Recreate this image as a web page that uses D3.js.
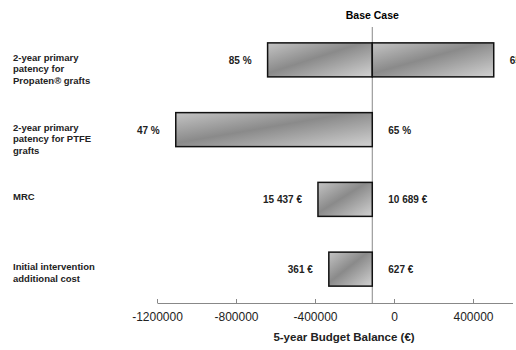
<!DOCTYPE html>
<html>
<head>
<meta charset="utf-8">
<script src="https://cdn.jsdelivr.net/npm/d3@7"></script>
<style>
    body { margin: 0; background: #fff; }
    text { font-family: "Liberation Sans", Arial, sans-serif; }
</style>
</head>
<body>
<div id="tornado_chart"></div>
<script>
// Tornado chart data (5-year budget balance, €)
const categories = ["propaten", "ptfe", "mrc", "initial"];
const categoryLabels = [
    ["2-year primary", "patency for", "Propaten\u00AE grafts"],
    ["2-year primary", "patency for PTFE", "grafts"],
    ["MRC"],
    ["Initial intervention", "additional cost"]
];
const baseCase = -110000;
const lowValues = [-640000, -1105000, -385000, -330000];
const highValues = [505000, -110000, -110000, -110000];
const lowLabels = ["85 %", "47 %", "15 437 \u20AC", "361 \u20AC"];
const highLabels = ["65 %", "65 %", "10 689 \u20AC", "627 \u20AC"];
const tickValues = [-1200000, -800000, -400000, 0, 400000];

function create_tornado_chart(width, height) {
    d3.select("#tornado_chart").select("svg").remove();

    var svg = d3.select("#tornado_chart").append("svg")
        .attr("width", width)
        .attr("height", height);

    // Gradient fill for bars
    var grad = svg.append("defs").append("linearGradient")
        .attr("id", "barGrad")
        .attr("x1", "0").attr("y1", "0")
        .attr("x2", "1").attr("y2", "1");
    grad.append("stop").attr("offset", "0%").attr("stop-color", "#c4c4c4");
    grad.append("stop").attr("offset", "45%").attr("stop-color", "#8a8a8a");
    grad.append("stop").attr("offset", "100%").attr("stop-color", "#d2d2d2");

    var x = d3.scaleLinear().domain([-1200000, 600000]).range([157, 512.5]);
    var y = d3.scalePoint().domain(categories).range([25, 304]).padding(0.5);
    var barH = 34;
    var axisY = 303;

    // Base case line
    svg.append("line")
        .attr("x1", x(baseCase)).attr("x2", x(baseCase))
        .attr("y1", 27).attr("y2", axisY)
        .attr("stroke", "#888").attr("stroke-width", 1);

    svg.append("text")
        .attr("x", x(baseCase))
        .attr("y", 19)
        .attr("text-anchor", "middle")
        .style("font-size", "10.5px")
        .style("font-weight", "bold")
        .text("Base Case");

    // Bars: one segment each side of the base case
    var segments = [];
    categories.forEach((c, i) => {
        if (lowValues[i] < baseCase) segments.push({ c: c, a: lowValues[i], b: baseCase });
        if (highValues[i] > baseCase) segments.push({ c: c, a: baseCase, b: highValues[i] });
    });

    svg.selectAll(".bar")
        .data(segments)
        .enter().append("rect")
        .attr("class", "bar")
        .attr("x", d => x(d.a))
        .attr("y", d => y(d.c) - barH / 2)
        .attr("width", d => x(d.b) - x(d.a))
        .attr("height", barH)
        .attr("fill", "url(#barGrad)")
        .attr("stroke", "#111")
        .attr("stroke-width", 1.5);

    // Value labels
    svg.selectAll(".lowLabel")
        .data(categories)
        .enter().append("text")
        .attr("class", "lowLabel")
        .attr("x", (d, i) => x(lowValues[i]) - 16)
        .attr("y", d => y(d) + 4)
        .attr("text-anchor", "end")
        .style("font-size", "10px")
        .style("font-weight", "bold")
        .style("fill", "#222")
        .text((d, i) => lowLabels[i]);

    svg.selectAll(".highLabel")
        .data(categories)
        .enter().append("text")
        .attr("class", "highLabel")
        .attr("x", (d, i) => x(highValues[i]) + 16)
        .attr("y", d => y(d) + 4)
        .attr("text-anchor", "start")
        .style("font-size", "10px")
        .style("font-weight", "bold")
        .style("fill", "#222")
        .text((d, i) => highLabels[i]);

    // Category labels
    var cat = svg.selectAll(".catLabel")
        .data(categories)
        .enter().append("text")
        .attr("class", "catLabel")
        .attr("x", 13)
        .attr("y", d => y(d) + 1)
        .style("font-size", "9.5px")
        .style("font-weight", "bold")
        .style("fill", "#222");
    cat.selectAll("tspan")
        .data((d, i) => categoryLabels[i])
        .enter().append("tspan")
        .attr("x", 13)
        .attr("dy", (d, j) => j === 0 ? 0 : 11.5)
        .text(d => d);

    // Axis
    var xAxis = d3.axisBottom(x)
        .tickValues(tickValues)
        .tickFormat(d => String(d))
        .tickSizeInner(-4)
        .tickSizeOuter(0)
        .tickPadding(9);

    var ax = svg.append("g")
        .attr("class", "x axis")
        .attr("transform", "translate(0," + axisY + ")")
        .call(xAxis);
    ax.select(".domain").attr("stroke", "#888");
    ax.selectAll(".tick line").attr("stroke", "#888");
    ax.selectAll(".tick text")
        .style("font-family", "Liberation Sans, Arial, sans-serif")
        .style("font-size", "12px")
        .style("fill", "#222");

    svg.append("text")
        .attr("x", 344)
        .attr("y", 341)
        .attr("text-anchor", "middle")
        .style("font-size", "11.5px")
        .style("font-weight", "bold")
        .style("fill", "#222")
        .text("5-year Budget Balance (\u20AC)");
}

create_tornado_chart(516, 350);
</script>
</body>
</html>
